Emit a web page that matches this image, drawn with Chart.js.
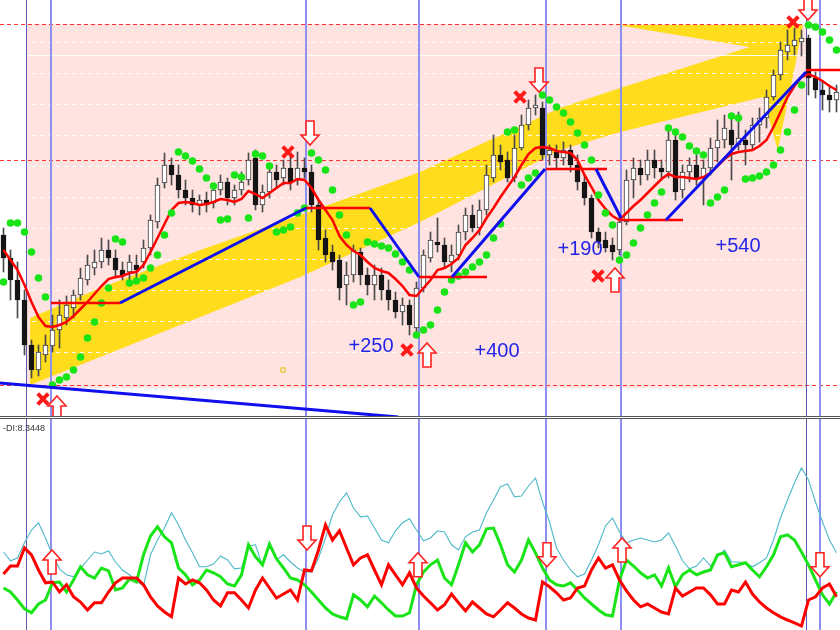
<!DOCTYPE html>
<html>
<head>
<meta charset="utf-8">
<script src="https://cdn.jsdelivr.net/npm/chart.js@4.4.1/dist/chart.umd.min.js"></script>
<style>
  html, body { margin: 0; padding: 0; background: #fff; }
  #wrap { position: relative; width: 840px; height: 630px; overflow: hidden; }
  #priceChart { position: absolute; left: 0; top: 0; }
  #sep { position: absolute; left: 0; top: 416px; width: 840px; height: 1px; border-top: 1px solid #555; border-bottom: 1px solid #555; }
  #diChart { position: absolute; left: 0; top: 419px; }
</style>
</head>
<body>
<div id="wrap">
  <canvas id="priceChart" width="840" height="416"></canvas>
  <div id="sep"></div>
  <canvas id="diChart" width="840" height="211"></canvas>
</div>
<script>
// ---- price panel data (one entry per bar) ----
const opens = [
  165, 142, 120, 100, 55, 30, 45, 54, 70, 82,
  92, 105, 120, 132, 138, 150, 142, 130, 128, 135,
  138, 152, 178, 217, 235, 225, 210, 202, 195, 200,
  197, 210, 218, 202, 210, 220, 242, 195, 208, 228,
  222, 232, 220, 232, 228, 195, 162, 148, 140, 115,
  125, 148, 125, 115, 125, 110, 100, 88, 95, 72,
  112, 142, 158, 155, 138, 145, 168, 185, 172, 190,
  222, 245, 240, 222, 252, 275, 292, 292, 245, 248,
  242, 250, 235, 218, 202, 168, 160, 155, 150, 178,
  220, 232, 225, 240, 232, 228, 260, 210, 228, 235,
  222, 232, 252, 260, 270, 255, 260, 255, 275, 282,
  303, 325, 348, 354, 358, 362, 322, 310, 305, 300
]
const closes = [
  142, 120, 100, 55, 30, 48, 55, 70, 85, 95,
  105, 122, 135, 138, 150, 142, 130, 125, 138, 130,
  152, 180, 215, 235, 225, 210, 202, 195, 200, 195,
  210, 218, 202, 210, 218, 240, 195, 208, 228, 220,
  232, 218, 232, 228, 195, 160, 145, 138, 112, 125,
  150, 125, 115, 125, 110, 100, 88, 95, 75, 112,
  145, 160, 155, 138, 145, 168, 185, 172, 190, 225,
  245, 238, 222, 252, 275, 292, 295, 245, 250, 242,
  250, 235, 218, 202, 168, 158, 152, 148, 178, 220,
  232, 225, 240, 232, 228, 260, 208, 228, 235, 222,
  232, 252, 260, 272, 255, 262, 255, 275, 282, 303,
  325, 350, 355, 360, 362, 322, 310, 305, 300, 308
]
const highs = [
  172, 150, 138, 110, 60, 55, 65, 85, 100, 104,
  110, 132, 145, 150, 162, 160, 150, 138, 145, 145,
  160, 185, 222, 247, 242, 235, 220, 210, 205, 208,
  215, 225, 222, 215, 228, 247, 250, 215, 235, 235,
  240, 245, 248, 242, 235, 200, 170, 155, 145, 138,
  155, 152, 132, 135, 132, 120, 108, 102, 100, 118,
  150, 168, 182, 162, 155, 175, 192, 195, 200, 235,
  265, 255, 248, 265, 285, 300, 305, 298, 255, 255,
  258, 255, 245, 225, 205, 172, 168, 162, 185, 230,
  242, 240, 250, 250, 240, 270, 265, 235, 242, 245,
  240, 262, 280, 285, 282, 288, 270, 282, 292, 310,
  330, 358, 370, 372, 370, 365, 328, 318, 315, 315
]
const lows = [
  128, 100, 82, 45, 22, 24, 38, 48, 52, 75,
  82, 100, 115, 125, 132, 135, 122, 120, 115, 120,
  132, 145, 172, 212, 215, 202, 195, 188, 185, 188,
  192, 205, 195, 195, 205, 215, 190, 188, 202, 212,
  215, 210, 215, 222, 188, 150, 138, 130, 100, 95,
  118, 115, 105, 100, 100, 90, 82, 75, 65, 68,
  108, 138, 148, 132, 128, 140, 160, 168, 165, 185,
  218, 230, 218, 218, 250, 270, 285, 240, 235, 232,
  235, 228, 210, 195, 162, 152, 148, 140, 145, 175,
  202, 215, 220, 222, 220, 222, 200, 202, 218, 215,
  195, 225, 238, 252, 220, 250, 235, 250, 258, 272,
  300, 320, 340, 345, 344, 305, 302, 290, 288, 288
]
const maValues = [
  150, 140, 130, 115, 98, 83, 74, 73, 75, 78,
  84, 91, 98, 106, 114, 121, 123, 124, 127, 128,
  135, 148, 162, 176, 190, 197, 198, 197, 195, 196,
  198, 201, 200, 198, 201, 209, 206, 202, 207, 212,
  217, 217, 221, 220, 212, 200, 190, 180, 164, 155,
  149, 145, 138, 132, 129, 127, 121, 114, 105, 104,
  112, 120, 130, 132, 136, 142, 155, 162, 170, 182,
  192, 203, 213, 223, 235, 246, 252, 253, 252, 249,
  248, 247, 240, 225, 213, 200, 191, 184, 180, 187,
  194, 200, 207, 214, 221, 226, 223, 223, 222, 221,
  223, 227, 234, 241, 246, 248, 249, 250, 254, 260,
  273, 288, 303, 314, 323, 326, 323, 319, 314, 310
]
const sarValues = [
  118, 177, 177, 168, 148, 122, 103, 15, 20, 23,
  30, 43, 62, 78, 97, 112, 161, 158, 117, 119,
  122, 132, 145, 165, 187, 248, 244, 239, 231, 222,
  214, 180, 181, 225, 223, 182, 246, 244, 234, 168,
  170, 173, 187, 192, 247, 240, 230, 210, 185, 165,
  95, 98, 158, 156, 154, 152, 146, 138, 130, 65,
  70, 75, 90, 108, 120, 124, 128, 133, 138, 145,
  162, 176, 268, 270, 215, 222, 227, 305, 300, 293,
  287, 278, 267, 255, 240, 205, 187, 175, 140, 145,
  157, 172, 185, 197, 208, 272, 268, 263, 254, 249,
  245, 197, 203, 210, 284, 282, 221, 222, 224, 228,
  235, 250, 268, 290, 315, 375, 373, 368, 360, 350
]

// levels, zones and drawn objects (bar index, price)
const alertLevels = [376, 240, 15]
const gridLevels = [358, 327, 296, 265, 234, 203, 172, 141, 110, 79, 48]
const markLevel = 345
const sessionBox = [3.36, 114.8, 376, 12]
const bandBars = [3.8, 13.8, 28.1, 42.4, 59.5, 79.5, 88.1, 106.6, 87.6, 114.2, 113.1, 110.6, 108.5, 88.1, 79.5, 59.5, 42.4, 3.8]
const bandPrices = [82, 112, 150, 185, 228, 292, 312, 353, 375, 375, 335, 250, 303, 268, 250, 178, 123, 15]
const exitBars = [3.21, 114.64]
const entryBars = [6.79, 43.21, 59.36, 77.5, 88.21, 116.71]
const trendLegs = [
  [-0.5, 17, 56.4, -17],
  [16.64, 97, 43.21, 192],
  [52.36, 192, 59.36, 123],
  [64.07, 123, 77.36, 231],
  [84.64, 231, 88.21, 182],
  [94.64, 180, 114.64, 328]
]
const baseLegs = [
  [6.79, 97, 16.64, 97],
  [43.21, 192, 52.36, 192],
  [59.36, 123, 69.07, 123],
  [77.5, 231, 86.21, 231],
  [88.21, 180, 97.07, 180],
  [114.64, 330, 119.5, 330]
]
const crossBars = [5.64, 40.64, 73.79, 84.93, 112.79, 57.64]
const crossPrices = [1, 248, 303, 124, 378, 50]
const upArrows = [[7.64, -8], [60.5, 45], [87.36, 120]]
const downArrows = [[43.79, 267], [76.5, 320], [114.93, 392]]
const gainLabels = ['+250', '+400', '+190', '+540']
const gainBars = [52.5, 70.5, 82.36, 104.93]
const gainPrices = [54, 49, 151, 154]
const tagPoint = [39.93, 30]

// ---- DMI panel data ----
const adxValues = [
  19.5, 17.3, 18, 21.8, 25, 26.8, 23, 18.8, 15.3, 13.8,
  13.3, 15.3, 17.5, 19.5, 19, 19.8, 17, 15, 13.8, 12.3,
  11, 18.8, 22.5, 25.5, 29.3, 26.3, 22.5, 19.3, 15.8, 15.8,
  16.5, 18.5, 17.5, 15.3, 15.5, 21, 21.3, 16, 21, 17.5,
  18.8, 17, 15.5, 14.5, 14.5, 18, 23, 28.8, 32, 34.3,
  30.5, 28.3, 28.5, 25.5, 22.5, 21.8, 24.8, 26.8, 27.8, 25,
  22.3, 23, 24.8, 24.5, 21.3, 20, 23.3, 24.5, 25, 29.3,
  32.5, 35.8, 36.5, 33.3, 33.5, 36, 38, 32, 27, 20.5,
  17.5, 15, 13.3, 14, 17.5, 21.3, 26, 28, 24.5, 21.8,
  22.5, 23, 22.5, 22, 22.5, 24.3, 21, 17.3, 15.3, 16,
  18, 16, 18.3, 20, 17, 17, 16.8, 15.8, 16.8, 18,
  22.5, 28, 32.5, 36.8, 40.5, 37.5, 32, 27, 22.5, 19.3
]
const plusDi = [
  10.5, 9.5, 7.5, 5.3, 4.3, 6.5, 7.5, 11.8, 12, 9.5,
  12.5, 15.8, 13.8, 13, 15.5, 14.8, 10, 10.5, 12.8, 12,
  18.8, 23.5, 25.8, 23.3, 21.8, 15.5, 13.8, 11.3, 12.5, 15,
  14.3, 13.3, 11.5, 11, 13.8, 21.3, 18.3, 16.3, 21.5, 17.8,
  15.5, 13, 12.5, 11.3, 9.5, 7.5, 5.5, 4, 3.3, 2.8,
  8.8, 7.5, 5.8, 8.5, 6.8, 5, 3.5, 3.5, 4.3, 11.3,
  14.5, 16.3, 17.5, 13, 11.3, 16.3, 21.8, 19.5, 21.3, 25.3,
  25.5, 21.3, 16.3, 14.5, 17.5, 22.5, 19.3, 15.5, 12.5, 11.3,
  11, 11.8, 10, 8, 6.5, 5, 3.8, 3.5, 12.5, 17.5,
  16, 14.3, 13, 13.8, 11, 15.5, 10.8, 13.8, 15, 13.8,
  14.5, 15, 18.8, 19.3, 15.8, 16.3, 16.8, 15, 13.3, 15.8,
  18.8, 23.3, 23.8, 22.5, 19.5, 16.3, 12.5, 8.8, 6.5, 9.5
]
const minusDi = [
  14, 16, 16, 20.5, 18.8, 15, 11.8, 12, 9.5, 11.3,
  8.3, 7, 5, 6.8, 6.8, 9.5, 11.8, 13, 13, 13,
  11.3, 8.3, 6, 4.5, 3.3, 13, 11.5, 12.5, 11.8, 10,
  7.5, 6, 9.3, 9.3, 7.5, 5.5, 10, 13, 10.5, 8,
  9, 10, 7.5, 15, 14.8, 20, 26.3, 22.5, 24.8, 20.5,
  16.3, 18, 18.8, 15, 11.3, 16.3, 13.8, 11.3, 14.3, 10.5,
  8.5, 6.8, 5, 6.3, 9, 6.8, 4.8, 7, 5.5, 4,
  3.3, 5, 6.8, 5.5, 4, 3, 2.5, 12, 10.8, 9.3,
  7.5, 8, 10.5, 11, 15, 18, 15.5, 16.3, 12.5, 9.8,
  7.5, 5.8, 6.5, 5.5, 4.5, 4, 10.5, 8.5, 9.5, 10.5,
  10.5, 8.8, 6.5, 6.5, 10, 9.5, 12, 9, 7, 5.5,
  4.3, 3.3, 2.5, 1.8, 1, 7.5, 8.3, 10.5, 11.5, 8.3
]
const diUpArrows = [[6.93, 17], [59.21, 16.3], [88.36, 20]]
const diDownArrows = [[43.36, 23], [77.64, 18.8], [116.64, 16.3]]
const diLabel = '-DI:8.3448'

const bars = opens.map((_, i) => i)
const series = values => bars.map(i => ({ x: i, y: values[i] }))
const legPoints = legs => legs.flatMap(([a, p, b, q]) => [{ x: a, y: p }, { x: b, y: q }, { x: b, y: null }])
const isBull = i => closes[i] >= opens[i]

function drawArrow (ctx, px, py, dir) {
  const s = dir // 1 = up, -1 = down
  ctx.beginPath()
  ctx.moveTo(px, py - 12 * s)
  ctx.lineTo(px + 9, py - 2 * s)
  ctx.lineTo(px + 4, py - 2 * s)
  ctx.lineTo(px + 4, py + 12 * s)
  ctx.lineTo(px - 4, py + 12 * s)
  ctx.lineTo(px - 4, py - 2 * s)
  ctx.lineTo(px - 9, py - 2 * s)
  ctx.closePath()
  ctx.fillStyle = '#fff'
  ctx.fill()
  ctx.lineWidth = 1.6
  ctx.strokeStyle = '#ff2020'
  ctx.stroke()
}

function drawEventLines (chart) {
  const { ctx, chartArea, scales: { x } } = chart
  ctx.save()
  exitBars.forEach(b => {
    const px = Math.round(x.getPixelForValue(b)) + 0.5
    ctx.strokeStyle = '#5a5ab4'
    ctx.lineWidth = 1
    ctx.beginPath(); ctx.moveTo(px, chartArea.top); ctx.lineTo(px, chartArea.bottom); ctx.stroke()
  })
  entryBars.forEach(b => {
    const px = Math.round(x.getPixelForValue(b))
    ctx.strokeStyle = '#8f8ff2'
    ctx.lineWidth = 2
    ctx.beginPath(); ctx.moveTo(px, chartArea.top); ctx.lineTo(px, chartArea.bottom); ctx.stroke()
  })
  ctx.restore()
}

const priceBackdrop = {
  id: 'priceBackdrop',
  beforeDatasetsDraw (chart) {
    const { ctx, chartArea, scales: { x, y } } = chart
    ctx.save()
    // session zone
    const [b0, b1, pTop, pBot] = sessionBox
    ctx.fillStyle = '#ffe3e1'
    ctx.fillRect(x.getPixelForValue(b0), y.getPixelForValue(pTop),
      x.getPixelForValue(b1) - x.getPixelForValue(b0), y.getPixelForValue(pBot) - y.getPixelForValue(pTop))
    // channel band
    ctx.beginPath()
    bandBars.forEach((b, i) => {
      const px = x.getPixelForValue(b)
      const py = y.getPixelForValue(bandPrices[i])
      if (i === 0) ctx.moveTo(px, py)
      else ctx.lineTo(px, py)
    })
    ctx.closePath()
    ctx.fillStyle = '#ffdd1c'
    ctx.fill()
    // grid
    ctx.strokeStyle = 'rgba(255,255,255,0.95)'
    ctx.lineWidth = 1
    ctx.setLineDash([4, 4])
    gridLevels.forEach(p => {
      const py = Math.round(y.getPixelForValue(p)) + 0.5
      ctx.beginPath(); ctx.moveTo(chartArea.left, py); ctx.lineTo(chartArea.right, py); ctx.stroke()
    })
    ctx.setLineDash([])
    const my = Math.round(y.getPixelForValue(markLevel)) + 0.5
    ctx.beginPath(); ctx.moveTo(chartArea.left, my); ctx.lineTo(chartArea.right, my); ctx.stroke()
    // alert levels
    ctx.strokeStyle = '#ff3030'
    ctx.setLineDash([4, 3])
    alertLevels.forEach(p => {
      const py = Math.round(y.getPixelForValue(p)) + 0.5
      ctx.beginPath(); ctx.moveTo(chartArea.left, py); ctx.lineTo(chartArea.right, py); ctx.stroke()
    })
    ctx.restore()
    drawEventLines(chart)
  },
  afterDatasetsDraw (chart) {
    const { ctx, scales: { x, y } } = chart
    ctx.save()
    upArrows.forEach(([b, p]) => drawArrow(ctx, x.getPixelForValue(b), y.getPixelForValue(p), 1))
    downArrows.forEach(([b, p]) => drawArrow(ctx, x.getPixelForValue(b), y.getPixelForValue(p), -1))
    ctx.font = '20px "Liberation Sans", Arial, sans-serif'
    ctx.fillStyle = '#2424e8'
    ctx.textAlign = 'center'
    ctx.textBaseline = 'middle'
    gainLabels.forEach((t, i) => ctx.fillText(t, x.getPixelForValue(gainBars[i]), y.getPixelForValue(gainPrices[i])))
    ctx.restore()
  }
}

new Chart(document.getElementById('priceChart'), {
  type: 'bar',
  data: {
    datasets: [
      {
        data: bars.map(i => ({ x: i, y: [lows[i], highs[i]] })),
        backgroundColor: '#4a4a4a',
        barThickness: 1,
        grouped: false,
        order: 10
      },
      {
        data: bars.map(i => ({ x: i, y: [opens[i], closes[i]] })),
        backgroundColor: ctx => isBull(ctx.dataIndex) ? '#ffffff' : '#151515',
        borderColor: ctx => isBull(ctx.dataIndex) ? '#3a3a3a' : '#151515',
        borderWidth: 1,
        borderSkipped: false,
        barThickness: 5,
        grouped: false,
        order: 9
      },
      {
        type: 'line',
        data: series(maValues),
        borderColor: '#ff0000',
        borderWidth: 2.5,
        pointRadius: 0,
        tension: 0,
        order: 6
      },
      {
        type: 'line',
        data: series(sarValues),
        showLine: false,
        pointRadius: 3.8,
        pointBackgroundColor: '#18e418',
        pointBorderWidth: 0,
        order: 5
      },
      {
        type: 'line',
        data: legPoints(baseLegs),
        borderColor: '#ff0000',
        borderWidth: 2.5,
        pointRadius: 0,
        order: 4
      },
      {
        type: 'line',
        data: legPoints(trendLegs),
        borderColor: '#1010ee',
        borderWidth: 3,
        pointRadius: 0,
        order: 3
      },
      {
        type: 'line',
        data: crossBars.map((b, i) => ({ x: b, y: crossPrices[i] })),
        showLine: false,
        pointStyle: 'crossRot',
        pointRadius: 7.5,
        pointBorderWidth: 4,
        pointBorderColor: '#ff1a1a',
        order: 1
      },
      {
        type: 'line',
        data: [{ x: tagPoint[0], y: tagPoint[1] }],
        showLine: false,
        pointStyle: 'rect',
        pointRadius: 3,
        pointBorderWidth: 1,
        pointBorderColor: '#e6c400',
        pointBackgroundColor: 'rgba(0,0,0,0)',
        order: 2
      }
    ]
  },
  options: {
    responsive: false,
    animation: false,
    events: [],
    layout: { padding: 0, autoPadding: false },
    plugins: { legend: { display: false }, tooltip: { enabled: false } },
    scales: {
      x: { type: 'linear', min: -0.5, max: 119.5, offset: false, display: false },
      y: { min: -16, max: 400, display: false }
    }
  },
  plugins: [priceBackdrop]
})

const diOverlay = {
  id: 'diOverlay',
  beforeDatasetsDraw (chart) {
    drawEventLines(chart)
  },
  afterDatasetsDraw (chart) {
    const { ctx, chartArea, scales: { x, y } } = chart
    ctx.save()
    diUpArrows.forEach(([b, v]) => drawArrow(ctx, x.getPixelForValue(b), y.getPixelForValue(v), 1))
    diDownArrows.forEach(([b, v]) => drawArrow(ctx, x.getPixelForValue(b), y.getPixelForValue(v), -1))
    ctx.font = '9px "Liberation Sans", Arial, sans-serif'
    ctx.fillStyle = '#333'
    ctx.textBaseline = 'top'
    ctx.fillText(diLabel, chartArea.left + 3, chartArea.top + 5)
    ctx.restore()
  }
}

new Chart(document.getElementById('diChart'), {
  type: 'line',
  data: {
    datasets: [
      {
        data: series(adxValues),
        borderColor: '#4db8c8',
        borderWidth: 1.1,
        pointRadius: 0,
        order: 3
      },
      {
        data: series(plusDi),
        borderColor: '#18e418',
        borderWidth: 3,
        pointRadius: 0,
        order: 2
      },
      {
        data: series(minusDi),
        borderColor: '#ff0000',
        borderWidth: 3,
        pointRadius: 0,
        order: 1
      }
    ]
  },
  options: {
    responsive: false,
    animation: false,
    events: [],
    layout: { padding: 0, autoPadding: false },
    plugins: { legend: { display: false }, tooltip: { enabled: false } },
    scales: {
      x: { type: 'linear', min: -0.5, max: 119.5, display: false },
      y: { min: 0, max: 52.75, display: false }
    }
  },
  plugins: [diOverlay]
})
</script>
</body>
</html>
